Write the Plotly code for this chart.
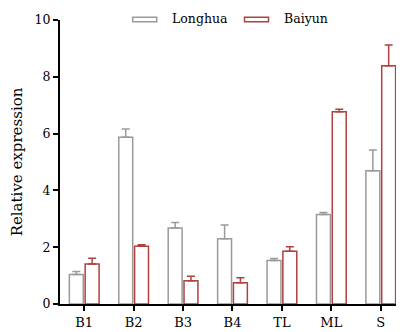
import plotly.graph_objects as go

categories = ["B1", "B2", "B3", "B4", "TL", "ML", "S"]
longhua = [1.04, 5.87, 2.68, 2.30, 1.53, 3.15, 4.69]
longhua_err = [0.10, 0.29, 0.19, 0.48, 0.07, 0.07, 0.73]
baiyun = [1.41, 2.03, 0.82, 0.75, 1.86, 6.77, 8.39]
baiyun_err = [0.20, 0.06, 0.16, 0.17, 0.16, 0.09, 0.73]
yticks = [0, 2, 4, 6, 8, 10]

GRAY = "#9a9a9a"
RED = "#b0413e"
FONT = "DejaVu Serif"

fig = go.Figure()
for name, vals, errs, col in [("Longhua", longhua, longhua_err, GRAY),
                              ("Baiyun", baiyun, baiyun_err, RED)]:
    fig.add_trace(go.Bar(
        x=categories, y=vals, name=name,
        marker=dict(color="white", line=dict(color=col, width=1.5)),
        error_y=dict(type="data", array=errs, arrayminus=[0] * len(errs),
                     symmetric=False, color=col, thickness=1.5, width=4),
        showlegend=False,
    ))

# page body has an 8px default margin; figure is offset by it
OFF = 8
W, H = 404 - OFF, 332 - OFF
L, R, T, B = 60 - OFF, 1, 20 - OFF, 28
pw, ph = W - L - R, H - T - B


def px2x(px):
    return (px - OFF - L) / pw


def py2y(py):
    return (H - B - (py - OFF)) / ph


legend_items = [("Longhua", GRAY, 132.7, 156.7, 170), ("Baiyun", RED, 244.5, 268.5, 282)]
for name, col, x0, x1, tx in legend_items:
    fig.add_shape(type="rect", xref="paper", yref="paper",
                  x0=px2x(x0), x1=px2x(x1), y0=py2y(21.7), y1=py2y(17.3),
                  line=dict(color=col, width=1.5), fillcolor="white")
    fig.add_annotation(text=name, xref="paper", yref="paper",
                       x=px2x(tx), y=py2y(18.5), xanchor="left", yanchor="middle",
                       showarrow=False, font=dict(family=FONT, size=12.5, color="black"))

fig.update_layout(
    width=W, height=H,
    margin=dict(l=L, r=R, t=T, b=B),
    paper_bgcolor="white", plot_bgcolor="white",
    barmode="group", bargap=0.36, bargroupgap=0.12,
    font=dict(family=FONT, size=13, color="black"),
    xaxis=dict(range=[-0.49, 6.45], showline=True, linecolor="black", linewidth=2,
               ticks="outside", ticklen=5, tickwidth=2, tickcolor="black",
               showgrid=False, zeroline=False, tickfont=dict(size=13)),
    yaxis=dict(range=[0, 10], tickvals=yticks, showline=True, linecolor="black",
               linewidth=2, ticks="outside", ticklen=5, tickwidth=2, tickcolor="black",
               showgrid=False, zeroline=False, tickfont=dict(size=12.5),
               title=dict(text="Relative expression", font=dict(size=15), standoff=9)),
)

fig.write_html("out.html")
